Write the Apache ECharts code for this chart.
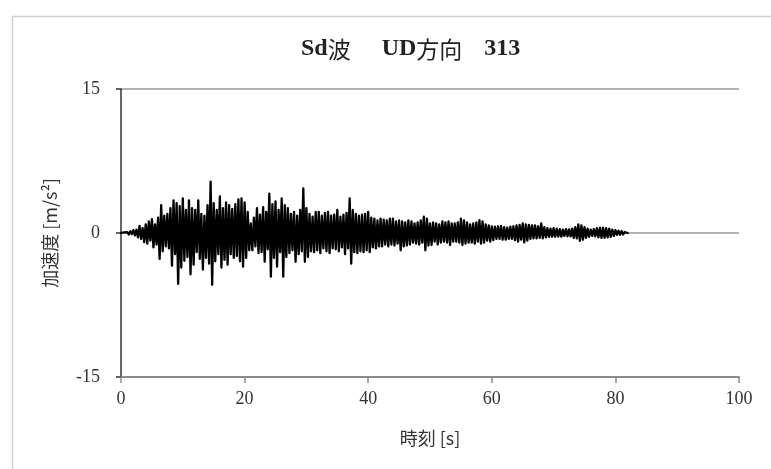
<!DOCTYPE html>
<html>
<head>
<meta charset="utf-8">
<script src="https://cdn.jsdelivr.net/npm/echarts@6/dist/echarts.min.js"></script>
<style>html,body{margin:0;padding:0;background:#fff;}#c{width:771px;height:469px;}</style>
</head>
<body>
<div id="c"></div>
<script>
const titleParts = ['Sd', '波', 'UD', '方向', '313'];
const xName = '時刻 [s]';
const yName = '加速度 [m/s²]';
const xTicks = [0, 20, 40, 60, 80, 100];
const yTicks = [-15, 0, 15];
const dt = 0.25; // seconds between samples
// acceleration samples [m/s2], four per second
const accel = [
  0.02,-0.04,0.06,-0.05,  0.1,-0.15,0.18,-0.12,  0.3,-0.25,0.35,-0.45,  0.75,-0.6,0.5,-0.95,
  0.9,-1.1,1.2,-0.8,  1.45,-1.5,0.9,-1.2,  1.6,-2.7,2.9,-1.9,  1.8,-1.4,2.0,-1.6,
  2.6,-3.4,3.4,-2.2,  3.1,-5.3,2.8,-3.6,  3.6,-2.9,2.4,-2.5,  3.4,-4.3,2.6,-3.3,
  2.4,-2.0,3.4,-2.7,  2.0,-3.8,1.8,-2.6,  2.9,-3.2,5.35,-5.4,  3.1,-2.95,2.4,-2.2,
  3.8,-3.6,2.6,-2.8,  3.2,-3.3,2.9,-2.2,  2.5,-2.6,3.0,-2.4,  3.5,-2.95,3.6,-3.5,
  3.2,-2.6,2.2,-1.8,  1.0,-1.8,1.6,-1.4,  2.6,-2.1,1.9,-2.0,  2.7,-3.0,2.2,-1.7,
  4.1,-4.55,3.0,-2.6,  3.3,-3.5,2.4,-2.0,  3.6,-4.55,2.9,-2.5,  2.6,-2.1,2.0,-1.8,
  2.2,-3.0,1.8,-2.2,  2.4,-1.9,4.65,-3.0,  2.6,-2.5,2.0,-1.9,  1.7,-2.0,2.2,-1.8,
  2.2,-2.1,1.8,-1.6,  2.1,-1.9,2.2,-2.1,  1.8,-1.6,1.9,-1.7,  2.4,-1.9,1.7,-1.5,
  1.9,-2.2,2.1,-1.6,  3.6,-3.2,2.4,-2.0,  2.0,-2.1,1.8,-1.9,  1.9,-2.0,2.0,-1.8,
  2.2,-2.0,1.6,-1.5,  1.5,-1.6,1.3,-1.4,  1.5,-1.4,1.4,-1.2,  1.3,-1.4,1.5,-1.2,
  1.5,-1.3,1.2,-1.1,  1.3,-1.8,1.2,-1.4,  1.1,-1.3,1.3,-1.2,  1.2,-1.0,1.0,-1.1,
  1.1,-1.2,1.3,-1.0,  1.7,-1.8,1.5,-1.3,  1.0,-1.25,1.1,-0.9,  1.0,-1.2,0.9,-1.0,
  1.2,-0.9,1.1,-1.0,  1.2,-1.25,1.0,-0.9,  1.0,-0.9,1.1,-1.0,  1.5,-1.25,1.3,-1.1,
  1.1,-1.0,0.9,-1.0,  1.0,-1.1,1.1,-0.9,  1.35,-1.1,1.2,-1.0,  0.9,-0.8,0.8,-0.9,
  0.7,-0.75,0.65,-0.6,  0.7,-0.6,0.75,-0.7,  0.6,-0.7,0.55,-0.6,  0.65,-0.6,0.7,-0.75,
  0.8,-0.9,0.85,-0.7,  1.0,-0.97,0.9,-0.8,  0.85,-0.6,0.8,-0.55,  0.8,-0.55,0.7,-0.5,
  1.0,-0.55,0.6,-0.45,  0.5,-0.4,0.45,-0.4,  0.5,-0.4,0.45,-0.38,  0.4,-0.38,0.35,-0.3,
  0.4,-0.35,0.38,-0.36,  0.45,-0.5,0.6,-0.55,  0.9,-0.83,0.8,-0.7,  0.6,-0.5,0.45,-0.4,
  0.35,-0.3,0.4,-0.35,  0.5,-0.45,0.55,-0.5,  0.55,-0.5,0.5,-0.45,  0.45,-0.4,0.35,-0.3,
  0.3,-0.2,0.25,-0.2,  0.2,-0.15,0.1,-0.08,  0
];

const seriesData = accel.map((v, i) => [i * dt, v]);
const serif = '"Liberation Serif","DejaVu Serif","Noto Sans CJK JP",serif';
const cjk = '"Noto Sans CJK JP","Noto Sans CJK SC",sans-serif';

const chart = echarts.init(document.getElementById('c'), null, {renderer: 'canvas'});
chart.setOption({
  animation: false,
  backgroundColor: '#fff',
  graphic: [{
    type: 'rect', left: 10, top: 14, silent: true, z: -10,
    shape: {width: 800, height: 500},
    style: {fill: 'none', stroke: '#cfcfcf', lineWidth: 1.5}
  }],
  title: {
    text: '{l|' + titleParts[0] + '}{c|' + titleParts[1] + '}{g1| }{l|' + titleParts[2] + '}{c|' +
          titleParts[3] + '}{g2| }{l|' + titleParts[4] + '}',
    left: 296, top: 32,
    textStyle: {
      rich: {
        l: {fontFamily: serif, fontSize: 24, fontWeight: 'bold', color: '#222'},
        c: {fontFamily: cjk, fontSize: 23, fontWeight: 'normal', color: '#222'},
        g1: {width: 31, fontSize: 23},
        g2: {width: 22, fontSize: 23}
      }
    }
  },
  grid: {left: 121, right: 32, top: 89, bottom: 92, containLabel: false},
  xAxis: {
    type: 'value', min: xTicks[0], max: xTicks[xTicks.length - 1], interval: 20,
    name: xName, nameLocation: 'middle', nameGap: 52,
    nameTextStyle: {fontFamily: cjk, fontSize: 18, color: '#333'},
    axisLine: {onZero: false, lineStyle: {color: '#8c8c8c', width: 2}},
    axisTick: {show: true, length: 6, lineStyle: {color: '#8c8c8c', width: 1.5}},
    axisLabel: {fontFamily: serif, fontSize: 18, color: '#333', margin: 13},
    splitLine: {show: false}
  },
  yAxis: {
    type: 'value', min: yTicks[0], max: yTicks[yTicks.length - 1], interval: 15,
    name: yName, nameLocation: 'middle', nameGap: 62, nameRotate: 90,
    nameTextStyle: {fontFamily: cjk, fontSize: 18, color: '#333'},
    axisLine: {show: true, lineStyle: {color: '#333', width: 1.5}},
    axisTick: {show: true, length: 5, lineStyle: {color: '#333', width: 1.5}},
    axisLabel: {fontFamily: serif, fontSize: 18, color: '#333', margin: 21},
    splitLine: {show: true, lineStyle: {color: '#999', width: 1.5}}
  },
  series: [{
    type: 'line', data: seriesData, showSymbol: false, symbol: 'none',
    lineStyle: {color: '#000', width: 2.3, join: 'round', cap: 'round'}, z: 3
  }]
});
</script>
</body>
</html>
